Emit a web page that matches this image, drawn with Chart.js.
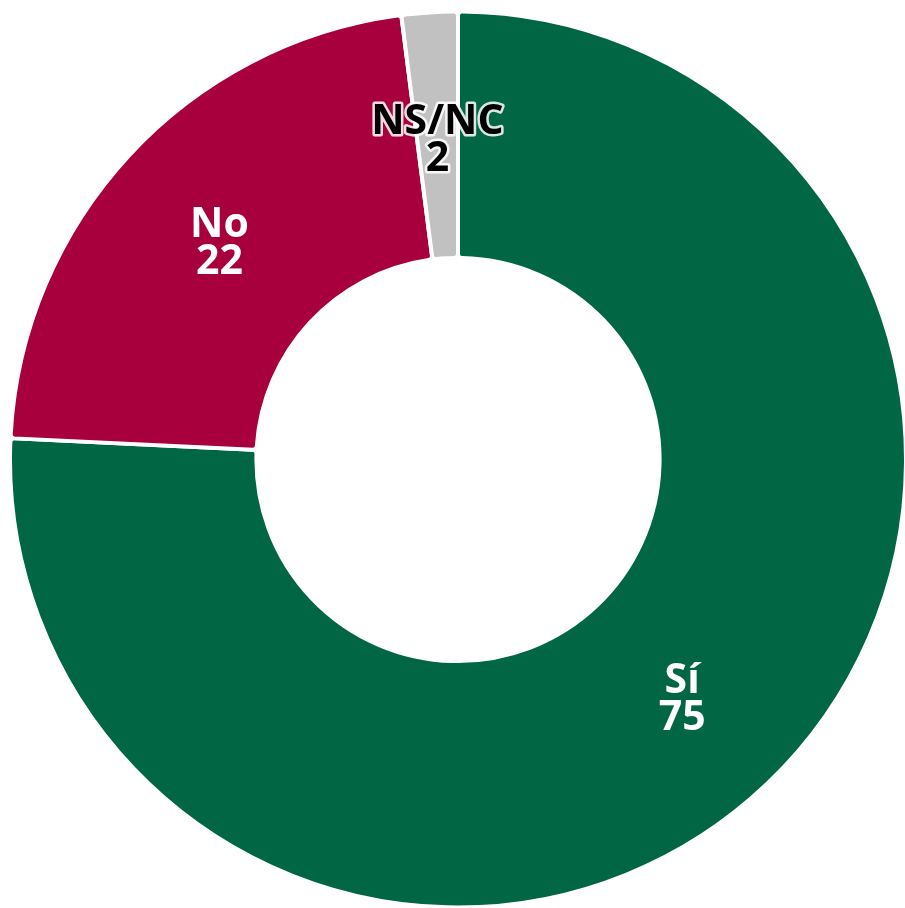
<!DOCTYPE html>
<html lang="es">
<head>
<meta charset="utf-8">
<title>Sí / No / NS-NC</title>
<script src="https://cdn.jsdelivr.net/npm/chart.js@4/dist/chart.umd.min.js"></script>
<style>
  html, body { margin: 0; padding: 0; background: #fff; overflow: hidden; }
  #wrap { width: 908px; height: 910px; }
</style>
</head>
<body>
<div id="wrap"><canvas id="donut"></canvas></div>
<script>
// Datos
const categorias = ['Sí', 'No', 'NS/NC'];
const valores = [75, 22, 2];
const colores = ['#006643', '#a8003c', '#c1c1c1'];
const coloresTexto = ['#ffffff', '#ffffff', '#000000'];

// Etiquetas dentro de cada sector (nombre + valor)
const etiquetasPlugin = {
  id: 'etiquetas',
  afterDatasetsDraw(chart) {
    const ctx = chart.ctx;
    const meta = chart.getDatasetMeta(0);
    ctx.save();
    ctx.font = 'bold 41px "Open Sans", "Noto Sans", sans-serif';
    ctx.textAlign = 'center';
    ctx.textBaseline = 'middle';
    ctx.lineJoin = 'round';
    meta.data.forEach((arc, i) => {
      const c = arc.getCenterPoint();
      const px = c.x;
      const py = c.y + 5;
      const lineas = [categorias[i], String(valores[i])];
      lineas.forEach((t, j) => {
        const y = py + (j - 0.5) * 37;
        if (coloresTexto[i] === '#000000') {
          ctx.strokeStyle = 'rgba(255,255,255,0.85)';
          ctx.lineWidth = 5;
          ctx.strokeText(t, px, y);
        }
        ctx.fillStyle = coloresTexto[i];
        ctx.fillText(t, px, y);
      });
    });
    ctx.restore();
  }
};

new Chart(document.getElementById('donut'), {
  type: 'doughnut',
  data: {
    labels: categorias,
    datasets: [{
      data: valores,
      backgroundColor: colores,
      borderColor: '#ffffff',
      borderWidth: 4,
      borderRadius: 4,
      hoverOffset: 0
    }]
  },
  options: {
    responsive: true,
    maintainAspectRatio: false,
    animation: false,
    cutout: '45%',
    layout: { padding: { left: 8, right: 0, top: 9, bottom: 0 } },
    plugins: {
      legend: { display: false },
      tooltip: { enabled: false }
    }
  },
  plugins: [etiquetasPlugin]
});
</script>
</body>
</html>
